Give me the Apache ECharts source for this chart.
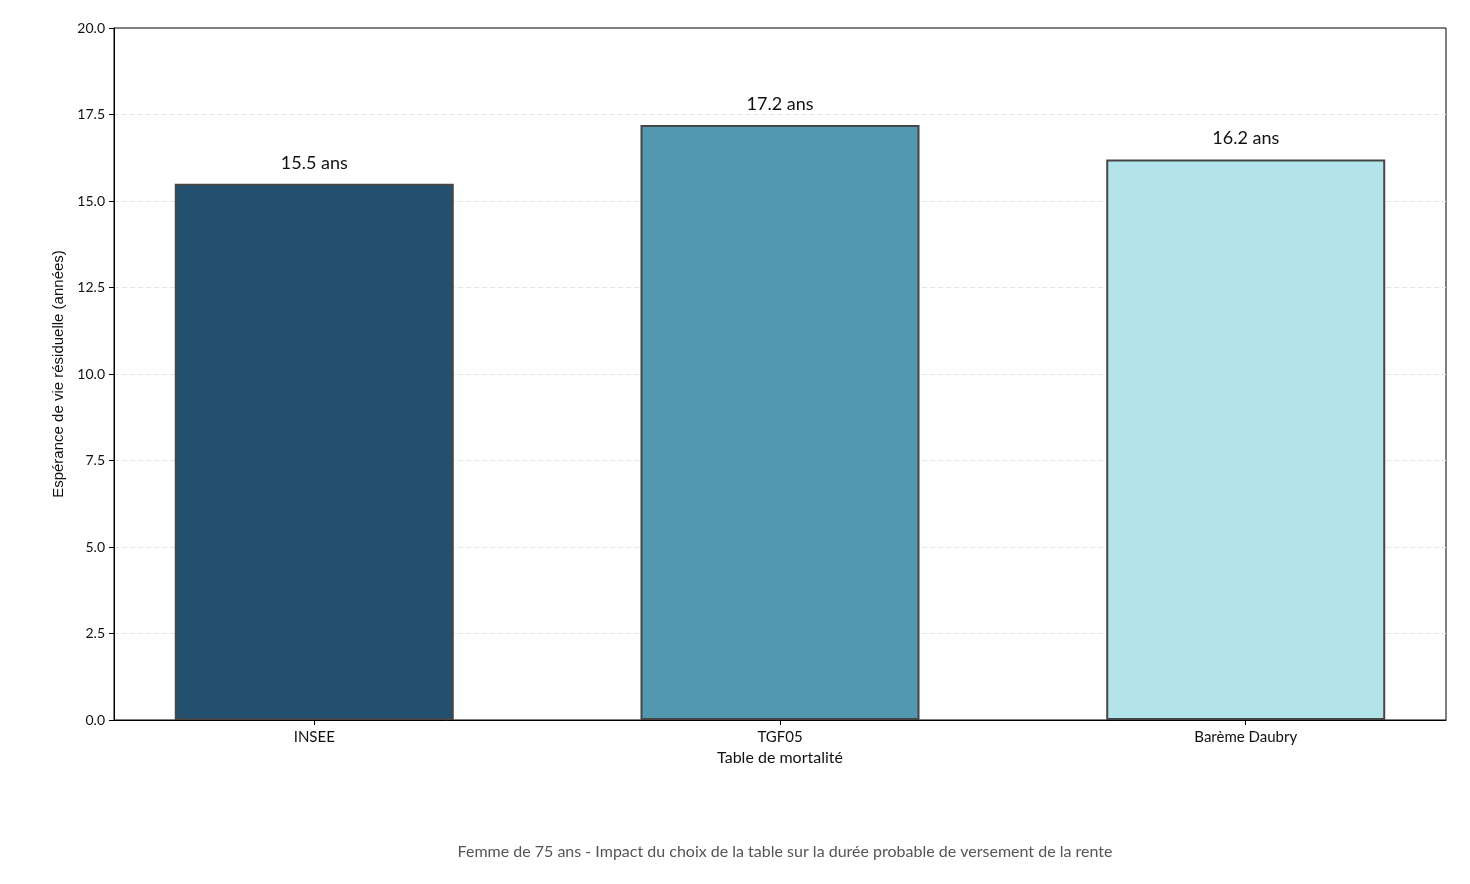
<!DOCTYPE html>
<html><head><meta charset="utf-8">
<script src="https://cdn.jsdelivr.net/npm/echarts@6/dist/echarts.min.js"></script>
<style>html,body{margin:0;padding:0;background:#fff}#c{width:1470px;height:884px}</style>
</head><body><div id="c"></div>
<script>
const categories = ["INSEE", "TGF05", "Barème Daubry"];
const values = [15.5, 17.2, 16.2];
const barColors = ["#23506f", "#5198b0", "#b2e4ea"];
const yTicks = {min: 0, max: 20, interval: 2.5};
const titleText = "Femme de 75 ans - Impact du choix de la table sur la durée probable de versement de la rente";
const xName = "Table de mortalité";
const yName = "Espérance de vie résiduelle (années)";

const font = "Lato, 'Noto Sans', sans-serif";
const positions = categories.map((c, i) => i);
const chart = echarts.init(document.getElementById('c'));
chart.setOption({
  animation: false,
  title: {text: titleText, left: 780, textAlign: 'center', top: 839,
    textStyle: {fontFamily: font, fontSize: 16, fontWeight: 'normal', color: '#555'}},
  grid: {left: 114, right: 24, top: 28, bottom: 164, show: true, borderColor: '#000', borderWidth: 1},
  xAxis: {type: 'value', min: -0.43, max: 2.43, name: xName, nameLocation: 'middle', nameGap: 29,
    nameTextStyle: {fontFamily: font, fontSize: 16, color: '#111'},
    splitLine: {show: false},
    axisLine: {onZero: false, lineStyle: {color: '#000'}},
    axisTick: {show: true, length: 5, lineStyle: {color: '#000'}, customValues: positions},
    axisLabel: {fontFamily: font, fontSize: 15, color: '#111', margin: 10, customValues: positions,
      formatter: v => categories[Math.round(v)]}},
  yAxis: {type: 'value', min: yTicks.min, max: yTicks.max, interval: yTicks.interval,
    name: yName, nameLocation: 'middle', nameGap: 47,
    nameTextStyle: {fontFamily: "'Liberation Sans', Arial, sans-serif", fontSize: 15, color: '#111'},
    axisLine: {show: true, onZero: false, lineStyle: {color: '#000'}},
    axisTick: {show: true, length: 5, lineStyle: {color: '#000'}},
    axisLabel: {fontFamily: font, fontSize: 14, color: '#111', margin: 9, formatter: v => v.toFixed(1)},
    splitLine: {showMaxLine: false, lineStyle: {color: '#e4e4e4', type: [5, 3]}}},
  series: [{type: 'bar', barWidth: 279,
    data: values.map((v, i) => ({value: [positions[i], v], itemStyle: {color: barColors[i]}})),
    itemStyle: {borderColor: '#464646', borderWidth: 2},
    label: {show: true, position: 'top', distance: 12, fontFamily: font, fontSize: 18, color: '#111',
      formatter: p => p.value[1].toFixed(1) + ' ans'}}]
});
</script></body></html>
